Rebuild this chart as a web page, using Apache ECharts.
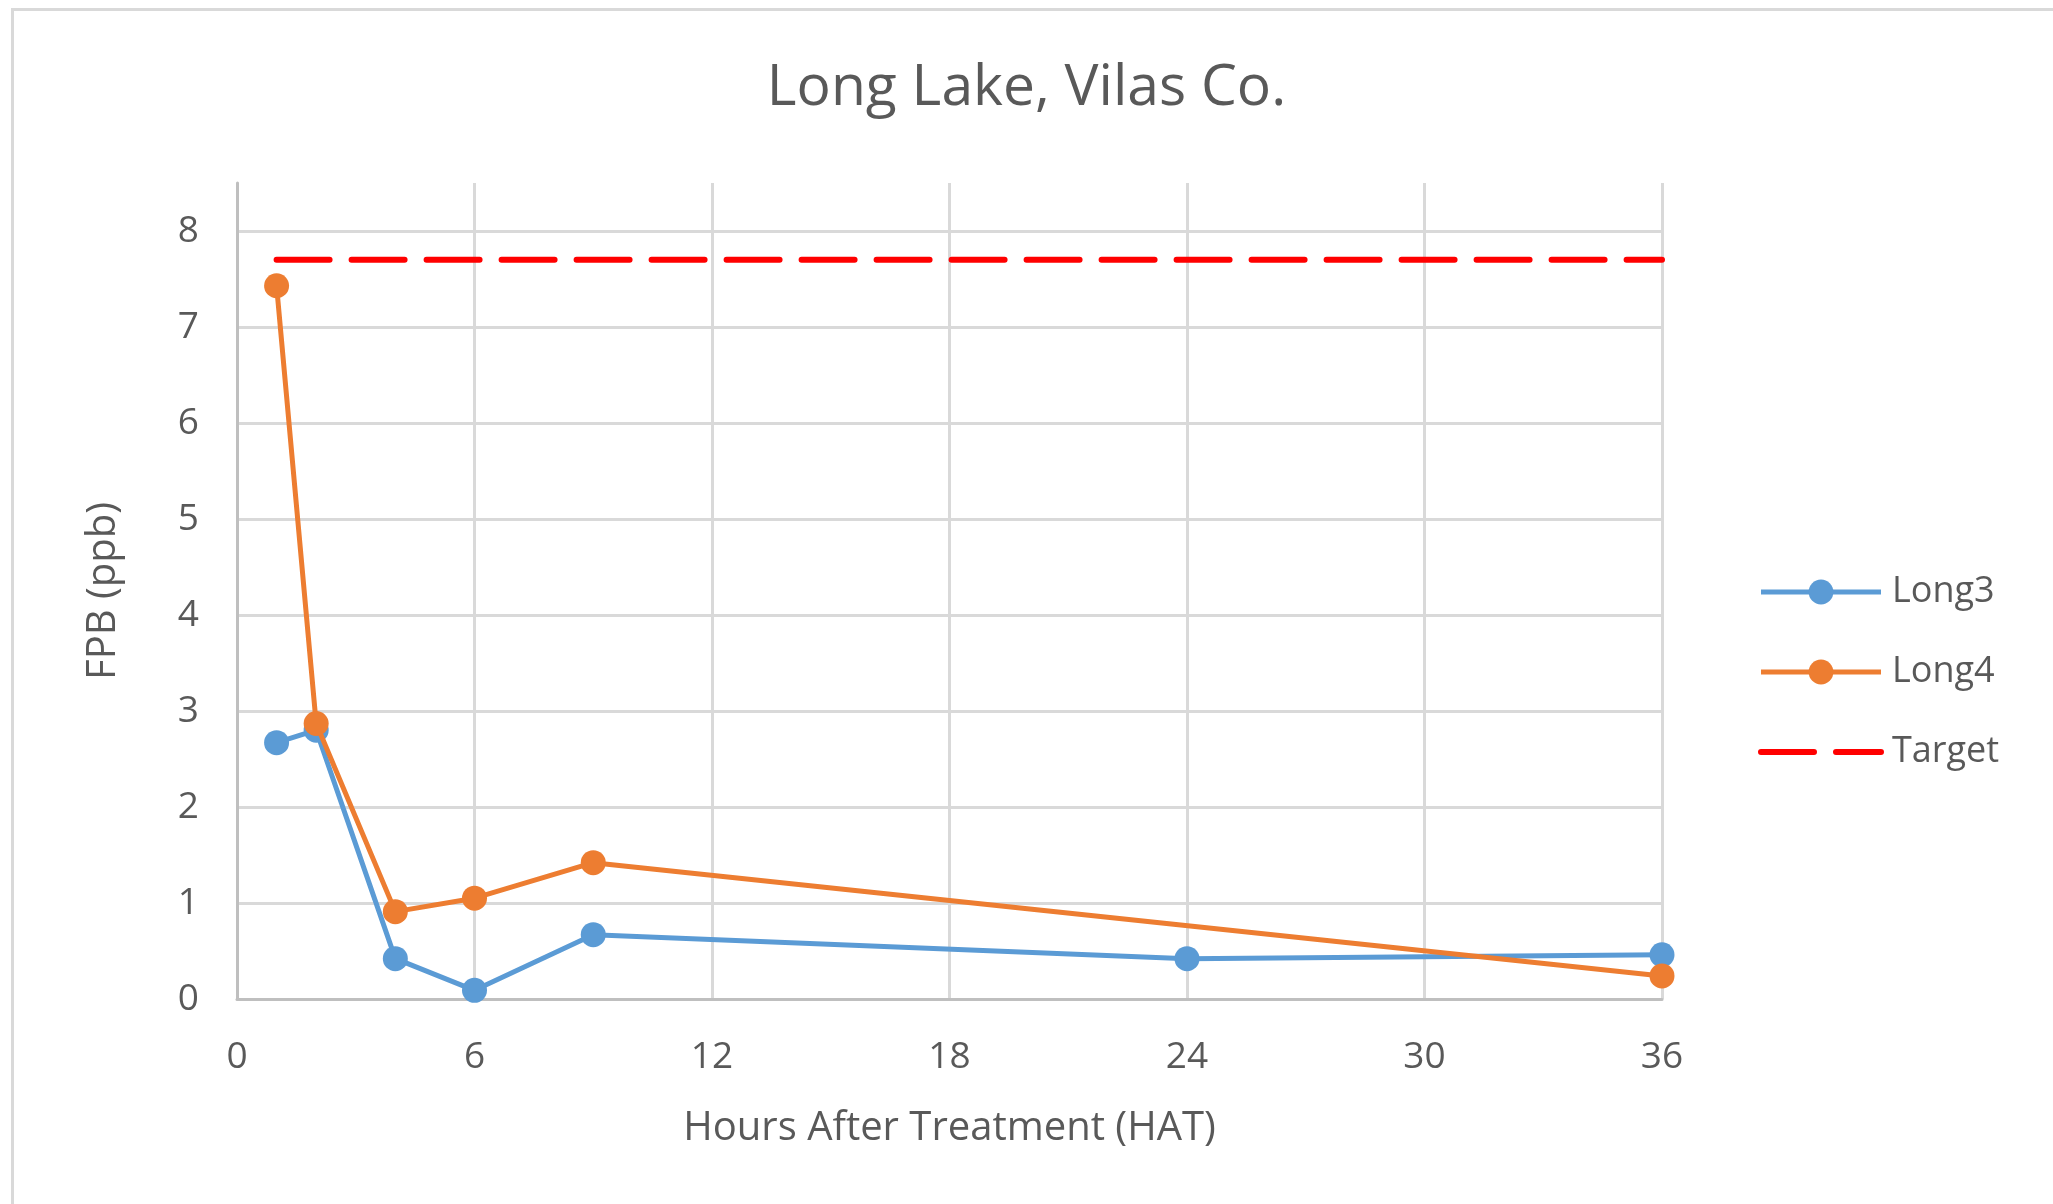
<!DOCTYPE html>
<html>
<head>
<meta charset="utf-8">
<script src="https://cdn.jsdelivr.net/npm/echarts@6/dist/echarts.min.js"></script>
<style>
html,body{margin:0;padding:0;background:#fff;}
#chart{width:2053px;height:1204px;}
</style>
</head>
<body>
<div id="chart"></div>
<script>
const hours3 = [1, 2, 4, 6, 9, 24, 36];
const long3 = [2.67, 2.80, 0.42, 0.09, 0.67, 0.42, 0.46];
const hours4 = [1, 2, 4, 6, 9, 36];
const long4 = [7.43, 2.87, 0.91, 1.05, 1.42, 0.24];
const targetHours = [1, 36];
const targetValue = [7.7, 7.7];
const seriesNames = ['Long3', 'Long4', 'Target'];
const titleText = 'Long Lake, Vilas Co.';
const xAxisTitle = 'Hours After Treatment (HAT)';
const yAxisTitle = 'FPB (ppb)';

const pair = (xs, ys) => xs.map((x, i) => [x, ys[i]]);
const FONT = '"Open Sans", "Noto Sans", sans-serif';
const TXT = '#595959';
const BLUE = '#5b9bd5', ORANGE = '#ed7d31', RED = '#ff0000';
const DASH = [53, 22];

const chart = echarts.init(document.getElementById('chart'), null, {renderer: 'canvas'});
chart.setOption({
  backgroundColor: '#fff',
  animation: false,
  graphic: [{
    type: 'rect', left: 10, top: 7, z: -1,
    shape: {width: 2100, height: 1250},
    style: {fill: 'none', stroke: '#d9d9d9', lineWidth: 3}
  }],
  title: {
    text: titleText, left: 'center', top: 55,
    textStyle: {fontFamily: FONT, fontSize: 57, fontWeight: 'normal', color: TXT}
  },
  legend: {
    orient: 'vertical', left: 1753, top: 562,
    itemWidth: 120, itemHeight: 31, itemGap: 30,
    data: [
      {name: seriesNames[0], lineStyle: {width: 5, color: BLUE}, itemStyle: {color: BLUE}},
      {name: seriesNames[1], lineStyle: {width: 5, color: ORANGE}, itemStyle: {color: ORANGE}},
      {name: seriesNames[2], lineStyle: {width: 6, color: RED, type: DASH, cap: 'round'}, itemStyle: {opacity: 0}}
    ],
    textStyle: {fontFamily: FONT, fontSize: 36, color: TXT, lineHeight: 50, padding: [0, 0, 0, 6]}
  },
  grid: {left: 237, top: 183, width: 1425, bottom: 205, containLabel: false},
  xAxis: {
    type: 'value', min: 0, max: 36, interval: 6,
    name: xAxisTitle, nameLocation: 'middle', nameGap: 110,
    nameTextStyle: {fontFamily: FONT, fontSize: 40, color: TXT},
    axisLine: {show: true, lineStyle: {color: '#bfbfbf', width: 3}},
    axisTick: {show: false},
    axisLabel: {fontFamily: FONT, fontSize: 37, color: TXT, margin: 40},
    splitLine: {show: true, lineStyle: {color: '#d9d9d9', width: 3}}
  },
  yAxis: {
    type: 'value', min: 0, max: 8.5, interval: 1,
    name: yAxisTitle, nameLocation: 'middle', nameGap: 113,
    nameTextStyle: {fontFamily: FONT, fontSize: 40, color: TXT},
    axisLine: {show: true, lineStyle: {color: '#bfbfbf', width: 3}},
    axisTick: {show: false},
    axisLabel: {fontFamily: FONT, fontSize: 37, color: TXT, margin: 38,
      formatter: v => (Number.isInteger(v) ? String(v) : '')},
    splitLine: {show: true, lineStyle: {width: 3, color: ['#d9d9d9','#d9d9d9','#d9d9d9','#d9d9d9','#d9d9d9','#d9d9d9','#d9d9d9','#d9d9d9','#d9d9d9','rgba(0,0,0,0)']}}
  },
  series: [
    {
      name: seriesNames[0], type: 'line', data: pair(hours3, long3),
      symbol: 'circle', symbolSize: 25,
      lineStyle: {color: BLUE, width: 5},
      itemStyle: {color: BLUE}, z: 3
    },
    {
      name: seriesNames[1], type: 'line', data: pair(hours4, long4),
      symbol: 'circle', symbolSize: 25,
      lineStyle: {color: ORANGE, width: 5},
      itemStyle: {color: ORANGE}, z: 4
    },
    {
      name: seriesNames[2], type: 'line', data: pair(targetHours, targetValue),
      symbol: 'none',
      lineStyle: {color: RED, width: 6, type: DASH, cap: 'round'},
      itemStyle: {color: RED}, z: 2
    }
  ]
});
</script>
</body>
</html>
